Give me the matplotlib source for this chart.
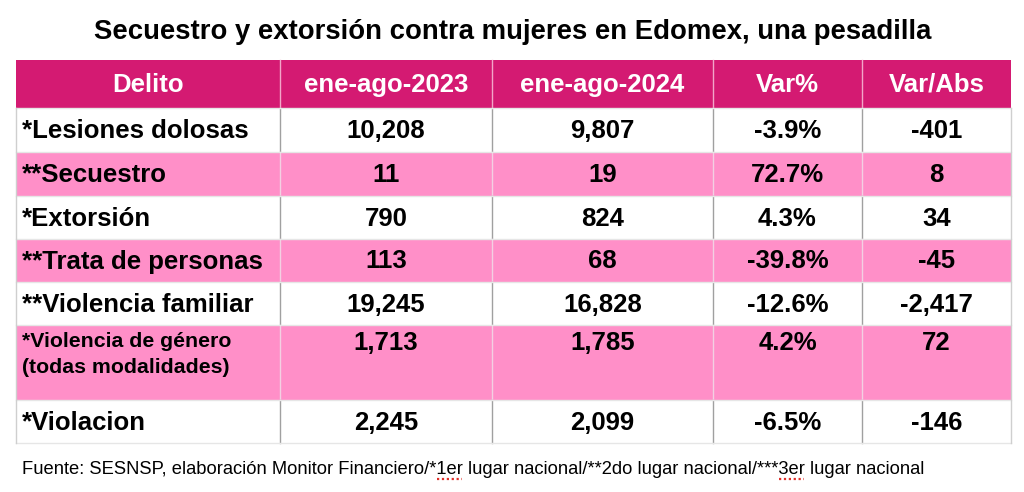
import matplotlib
matplotlib.use("Agg")
import matplotlib.pyplot as plt
from matplotlib.patches import Rectangle

# ---------------------------------------------------------------------------
# Data
# ---------------------------------------------------------------------------

title = "Secuestro y extorsión contra mujeres en Edomex, una pesadilla"
headers = ["Delito", "ene-ago-2023", "ene-ago-2024", "Var%", "Var/Abs"]
delitos = [
    "*Lesiones dolosas",
    "**Secuestro",
    "*Extorsión",
    "**Trata de personas",
    "**Violencia familiar",
    "*Violencia de género\n(todas modalidades)",
    "*Violacion",
]
ene_ago_2023 = ["10,208", "11", "790", "113", "19,245", "1,713", "2,245"]
ene_ago_2024 = ["9,807", "19", "824", "68", "16,828", "1,785", "2,099"]
var_pct = ["-3.9%", "72.7%", "4.3%", "-39.8%", "-12.6%", "4.2%", "-6.5%"]
var_abs = ["-401", "8", "34", "-45", "-2,417", "72", "-146"]
footnote = ("Fuente: SESNSP, elaboración Monitor Financiero/*1er lugar nacional/"
            "**2do lugar nacional/***3er lugar nacional")
spellcheck_marks = ["1er", "3er"]   # words with the red dotted underline

# ---------------------------------------------------------------------------
# Layout (pixels)
# ---------------------------------------------------------------------------

W, H = 1024, 492
col_edges = [16, 280, 492, 713, 862, 1011]
row_edges = [60, 108, 152, 196, 239, 282, 325, 400, 443]

HEADER_BG = "#d41a72"
PINK = "#ff8fc8"
GRID = "#cfcfcf"

plt.rcParams["font.family"] = ["Liberation Sans", "DejaVu Sans"]

fig = plt.figure(figsize=(W / 100, H / 100), dpi=100)
ax = fig.add_axes([0, 0, 1, 1])
ax.set_xlim(0, W)
ax.set_ylim(H, 0)
ax.axis("off")

ax.text(W / 2 + 1, 32, title, ha="center", va="center",
        fontsize=19.8, fontweight="bold", color="black")

# header
ax.add_patch(Rectangle((col_edges[0], row_edges[0]), col_edges[-1] - col_edges[0],
                       row_edges[1] - row_edges[0], facecolor=HEADER_BG, edgecolor="none"))
for j, h in enumerate(headers):
    cx = (col_edges[j] + col_edges[j + 1]) / 2
    ax.text(cx, (row_edges[0] + row_edges[1]) / 2 + 1, h, ha="center", va="center",
            fontsize=18.5, fontweight="bold", color="white")
for x in col_edges[1:-1]:
    ax.plot([x, x], [row_edges[0], row_edges[1]], color="#f2a6c8", lw=1)

columns = [delitos, ene_ago_2023, ene_ago_2024, var_pct, var_abs]
for i in range(len(delitos)):
    y0, y1 = row_edges[i + 1], row_edges[i + 2]
    pink = i % 2 == 1
    ax.add_patch(Rectangle((col_edges[0], y0), col_edges[-1] - col_edges[0], y1 - y0,
                           facecolor=PINK if pink else "white", edgecolor="none"))
    tall = "\n" in delitos[i]
    ty = y0 + 18 if tall else (y0 + y1) / 2 + 1
    for j, col in enumerate(columns):
        if j == 0:
            if tall:
                ax.text(col_edges[0] + 6, y0 + 7, col[i], ha="left", va="top",
                        fontsize=15.3, fontweight="bold", linespacing=1.45)
            else:
                ax.text(col_edges[0] + 6, ty, col[i], ha="left", va="center",
                        fontsize=18.5, fontweight="bold")
        else:
            cx = (col_edges[j] + col_edges[j + 1]) / 2
            ax.text(cx, ty, col[i], ha="center", va="center",
                    fontsize=18.5, fontweight="bold")
    vcol = "#f3d0e2" if pink else "#a0a0a0"
    for x in col_edges[1:-1]:
        ax.plot([x, x], [y0, y1], color=vcol, lw=1)

# horizontal grid lines and border
for y in row_edges[1:]:
    ax.plot([col_edges[0], col_edges[-1]], [y, y], color="#e6e6e6", lw=1)
ax.plot([col_edges[0], col_edges[0]], [row_edges[1], row_edges[-1]], color=GRID, lw=1)
ax.plot([col_edges[-1], col_edges[-1]], [row_edges[1], row_edges[-1]], color=GRID, lw=1)

# footnote, with the spell-check underlines seen in the source screenshot
FOOT_X, FOOT_Y, FOOT_FS = 22, 469, 13.2
ax.text(FOOT_X, FOOT_Y, footnote, ha="left", va="center", fontsize=FOOT_FS, color="black")

renderer = fig.canvas.get_renderer()

def text_width(s):
    t = ax.text(0, 0, s, fontsize=FOOT_FS)
    w = t.get_window_extent(renderer).width
    t.remove()
    return w

start = 0
for word in spellcheck_marks:
    k = footnote.index(word, start)
    start = k + len(word)
    x0 = FOOT_X + text_width(footnote[:k])
    x1 = FOOT_X + text_width(footnote[:k + len(word)])
    ax.plot([x0 + 1, x1 - 1], [FOOT_Y + 10, FOOT_Y + 10], color="#e0302a", lw=1.6,
            linestyle=(0, (1, 1.2)))

fig.savefig("out.png", dpi=100)
